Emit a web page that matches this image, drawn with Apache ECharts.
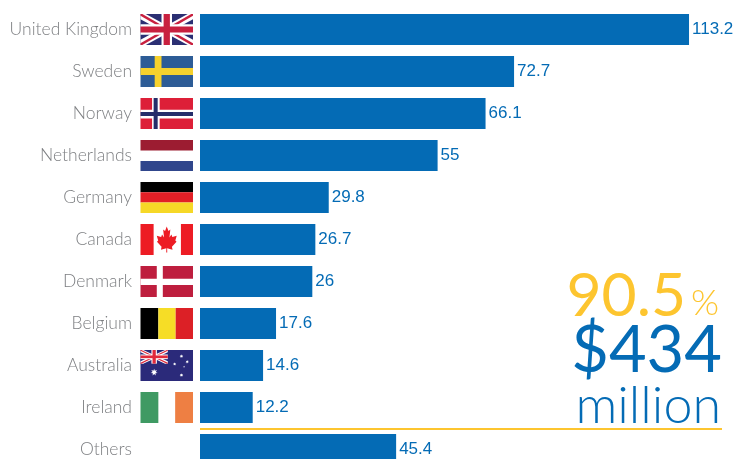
<!DOCTYPE html>
<html><head><meta charset="utf-8">
<style>html,body{margin:0;padding:0;background:#fff;overflow:hidden}#c{width:735px;height:459px}</style>
<script src="https://cdn.jsdelivr.net/npm/echarts@6/dist/echarts.min.js"></script>
</head><body><div id="c"></div>
<script>
const categories = ["United Kingdom","Sweden","Norway","Netherlands","Germany","Canada","Denmark","Belgium","Australia","Ireland","Others"];
const values = [113.2,72.7,66.1,55,29.8,26.7,26,17.6,14.6,12.2,45.4];
const flagCodes = ["uk","se","no","nl","de","ca","dk","be","au","ie",""];

const BLUE="#046bb5", YEL="#fdc52f", GREY="#7d7f82";
const FW=52.5, FH=31, FOFF=59.5;

function rect(x,y,w,h,c,X,Y){return {type:'rect',shape:{x:X+x*FW,y:Y+y*FH,width:w*FW,height:h*FH},style:{fill:c}};}
function poly(pts,c,X,Y,W,H){W=W||FW;H=H||FH;return {type:'polygon',shape:{points:pts.map(p=>[X+p[0]*W,Y+p[1]*H])},style:{fill:c}};}
function star(cx,cy,r,c,n){const p=[];n=n||5;for(let i=0;i<n*2;i++){const a=-Math.PI/2+i*Math.PI/n,R=i%2?r*.45:r;p.push([cx+R*Math.cos(a),cy+R*Math.sin(a)]);}
  return {type:'polygon',shape:{points:p},style:{fill:c}};}
function jack(X,Y,W,H,blue,red){
  const out=[];
  out.push({type:'rect',shape:{x:X,y:Y,width:W,height:H},style:{fill:blue}});
  const d=(a,b,c)=>[poly([[0,0],[a,0],[1,1-b],[1,1],[1-a,1],[0,b]],c,X,Y,W,H),poly([[1,0],[1,b],[a,1],[0,1],[0,1-b],[1-a,0]],c,X,Y,W,H)];
  out.push(...d(.1,.17,'#fff'));
  out.push(...d(.035,.06,red));
  const r=(x,y,w,h,c)=>({type:'rect',shape:{x:X+x*W,y:Y+y*H,width:w*W,height:h*H},style:{fill:c}});
  out.push(r(.4,0,.2,1,'#fff'),r(0,.33,1,.34,'#fff'),r(.44,0,.12,1,red),r(0,.4,1,.2,red));
  return out;
}
const leaf=[[0,-1],[.17,-.66],[.36,-.76],[.27,-.15],[.47,-.38],[.56,-.2],[1,-.28],[.86,.08],[.98,.18],[.52,.56],[.58,.78],[.04,.68],[.05,1],[-.05,1],[-.04,.68],[-.58,.78],[-.52,.56],[-.98,.18],[-.86,.08],[-1,-.28],[-.56,-.2],[-.47,-.38],[-.27,-.15],[-.36,-.76],[-.17,-.66]];
function flag(code,X,Y){
  const R=(x,y,w,h,c)=>rect(x,y,w,h,c,X,Y);
  switch(code){
    case 'uk': return jack(X,Y,FW,FH,'#2b2f73','#c8203f');
    case 'se': return [R(0,0,1,1,'#2d5c96'),R(.27,0,.13,1,'#f6d12d'),R(0,.39,1,.22,'#f6d12d')];
    case 'no': return [R(0,0,1,1,'#dd1f38'),R(.22,0,.145,1,'#fff'),R(0,.38,1,.28,'#fff'),R(.25,0,.077,1,'#252d6a'),R(0,.45,1,.13,'#252d6a')];
    case 'nl': return [R(0,0,1,.34,'#9c1c31'),R(0,.68,1,.32,'#30468c')];
    case 'de': return [R(0,0,1,.33,'#000'),R(0,.33,1,.33,'#e21f26'),R(0,.66,1,.34,'#f6d827')];
    case 'ca': return [R(0,0,.25,1,'#ed1c24'),R(.77,0,.23,1,'#ed1c24'),
      {type:'polygon',shape:{points:leaf.map(p=>[X+.5*FW+p[0]*.19*FW,Y+.5*FH+p[1]*.42*FH])},style:{fill:'#ed1c24'}}];
    case 'dk': return [R(0,0,1,1,'#be1e3e'),R(.31,0,.115,1,'#fff'),R(0,.41,1,.2,'#fff')];
    case 'be': return [R(0,0,.34,1,'#000'),R(.34,0,.33,1,'#f6dd26'),R(.67,0,.33,1,'#dc2026')];
    case 'ie': return [R(0,0,.34,1,'#3f9a63'),R(.66,0,.34,1,'#ee7f43')];
    case 'au': return [R(0,0,1,1,'#2b2a7a'),...jack(X,Y,FW*.52,FH*.44,'#2b2a7a','#e02a3c'),
      star(X+.26*FW,Y+.72*FH,3.6,'#fff',7),star(X+.78*FW,Y+.2*FH,1.9,'#fff',7),star(X+.65*FW,Y+.45*FH,1.7,'#fff',7),
      star(X+.89*FW,Y+.38*FH,1.8,'#fff',7),star(X+.78*FW,Y+.81*FH,1.9,'#fff',7),star(X+.83*FW,Y+.54*FH,1,'#fff',5)];
  }
  return [];
}

const chart=echarts.init(document.getElementById('c'),null,{renderer:'canvas'});
const bigFont='Lato';
chart.setOption({
  animation:false,
  backgroundColor:'#fff',
  grid:{left:200,top:29.5,width:518.4,height:420,containLabel:false},
  xAxis:{type:'value',min:0,max:120,show:false},
  yAxis:{type:'category',inverse:true,data:categories,boundaryGap:false,
    axisLine:{show:false},axisTick:{show:false},splitLine:{show:false},
    axisLabel:{margin:68,color:GREY,fontFamily:'Lato',fontWeight:300,fontSize:17.5,interval:0,showMinLabel:true,showMaxLabel:true}},
  series:[
    {type:'bar',data:values,barWidth:31,clip:false,itemStyle:{color:BLUE},silent:true,
     label:{show:true,position:'right',distance:3,color:BLUE,fontFamily:'Liberation Sans',fontSize:17,formatter:p=>String(p.value)}},
    {type:'custom',silent:true,clip:false,data:flagCodes.map((c,i)=>[0,i]),encode:{x:0,y:1},
     renderItem:(params,api)=>{
       const p=api.coord([0,params.dataIndex]);
       return {type:'group',children:flag(flagCodes[params.dataIndex],p[0]-FOFF,p[1]-FH/2)};
     }}
  ],
  graphic:[
    {type:'rect',silent:true,shape:{x:200,y:428,width:522,height:2},style:{fill:YEL}},
    {type:'text',silent:true,style:{x:686,y:296,text:'90.5',align:'right',verticalAlign:'middle',fill:YEL,font:'400 60.5px '+bigFont}},
    {type:'text',silent:true,style:{x:719,y:303,text:'%',align:'right',verticalAlign:'middle',fill:YEL,font:'300 36px '+bigFont}},
    {type:'text',silent:true,style:{x:722,y:351,text:'$434',align:'right',verticalAlign:'middle',fill:BLUE,font:'400 65px '+bigFont}},
    {type:'text',silent:true,style:{x:721,y:406,text:'million',align:'right',verticalAlign:'middle',fill:BLUE,font:'300 52px '+bigFont}}
  ]
});
</script></body></html>
